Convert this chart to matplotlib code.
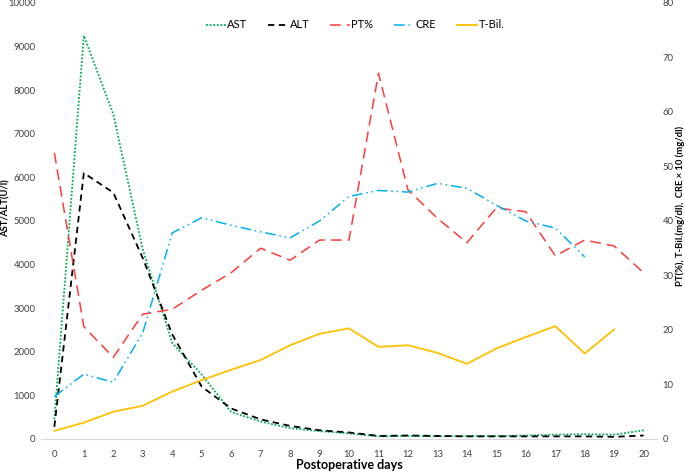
import matplotlib
matplotlib.use("Agg")
import matplotlib.pyplot as plt
import numpy as np

plt.rcParams['font.family'] = ['Lato', 'DejaVu Sans']

# Postoperative days
days = list(range(21))

# Left axis (U/l)
ast = [450, 9250, 7450, 4350, 2200, 1480, 620, 400, 250, 180, 130,
       60, 70, 60, 70, 70, 80, 100, 110, 100, 200]
alt = [280, 6100, 5650, 4150, 2400, 1200, 700, 450, 300, 200, 150,
       70, 80, 70, 60, 60, 60, 60, 60, 50, 80]

# Right axis
pt = [52.5, 20.6, 15.0, 22.9, 23.8, 27.3, 30.5, 35.0, 32.8, 36.5, 36.5,
      67.1, 45.7, 40.5, 36.0, 42.4, 41.7, 33.6, 36.5, 35.4, 30.5]
cre = [7.8, 11.9, 10.4, 19.5, 37.8, 40.6, 39.2, 38.0, 36.9, 40.0, 44.5,
       45.6, 45.3, 46.9, 46.0, 42.9, 40.0, 38.7, 33.4]
tbil = [1.5, 3.0, 5.0, 6.1, 8.7, 10.8, 12.7, 14.5, 17.2, 19.3, 20.3,
        16.9, 17.2, 15.8, 13.8, 16.6, 18.7, 20.7, 15.7, 20.1]

tick_color = '#404040'

fig = plt.figure(figsize=(6.85, 4.75), dpi=100)
ax = fig.add_axes([0.06, 0.0758, 0.899, 0.918])
ax2 = ax.twinx()

l_ast, = ax.plot(days, ast, color='#00B050', lw=1.3, dashes=(1, 1), label='AST')
l_alt, = ax.plot(days, alt, color='black', lw=1.3, dashes=(3.5, 2.5), label='ALT')
l_pt, = ax2.plot(days, pt, color='#FF3B3B', lw=1.1, dashes=(7, 4), label='PT%')
l_cre, = ax2.plot(days[:len(cre)], cre, color='#00B0F0', lw=1.1,
                  dashes=(7, 2.5, 1, 2.5, 1, 2.5), label='CRE')
l_tb, = ax2.plot(days[:len(tbil)], tbil, color='#FFC000', lw=1.3, label='T-Bil.')

ax.set_xlim(-0.45, 20.45)
ax.set_ylim(0, 10000)
ax2.set_ylim(0, 80)
ax.set_xticks(days)
ax.set_yticks(np.arange(0, 10001, 1000))
ax2.set_yticks(np.arange(0, 81, 10))

for a in (ax, ax2):
    for s in a.spines.values():
        s.set_visible(False)
    a.tick_params(length=0, labelsize=6.8, colors=tick_color)
ax.spines['bottom'].set_visible(True)
ax.spines['bottom'].set_color('#d9d9d9')
ax.tick_params(axis='x', pad=8)
ax.tick_params(axis='y', pad=4)
ax2.tick_params(axis='y', pad=4)

ax.set_xlabel('Postoperative days', fontsize=9, fontweight='bold')
ax.xaxis.set_label_coords(0.5, -0.047)
ax.set_ylabel('AST/ALT(U/l)', fontsize=6.8, fontweight='bold')
ax.yaxis.set_label_coords(-0.049, 0.53)
ax2.set_ylabel('PT(%), T-Bil.(mg/dl),  CRE \u00d7 10 (mg/dl)', fontsize=6.8,
               fontweight='bold', rotation=90)
ax2.yaxis.set_label_coords(1.03, 0.535)

ax2.legend(handles=[l_ast, l_alt, l_pt, l_cre, l_tb], loc='upper center',
           bbox_to_anchor=(0.51, 0.985), ncol=5, frameon=False, fontsize=8,
           handlelength=1.8, handletextpad=0.1, columnspacing=1.9)

fig.savefig('out.png', dpi=100)
